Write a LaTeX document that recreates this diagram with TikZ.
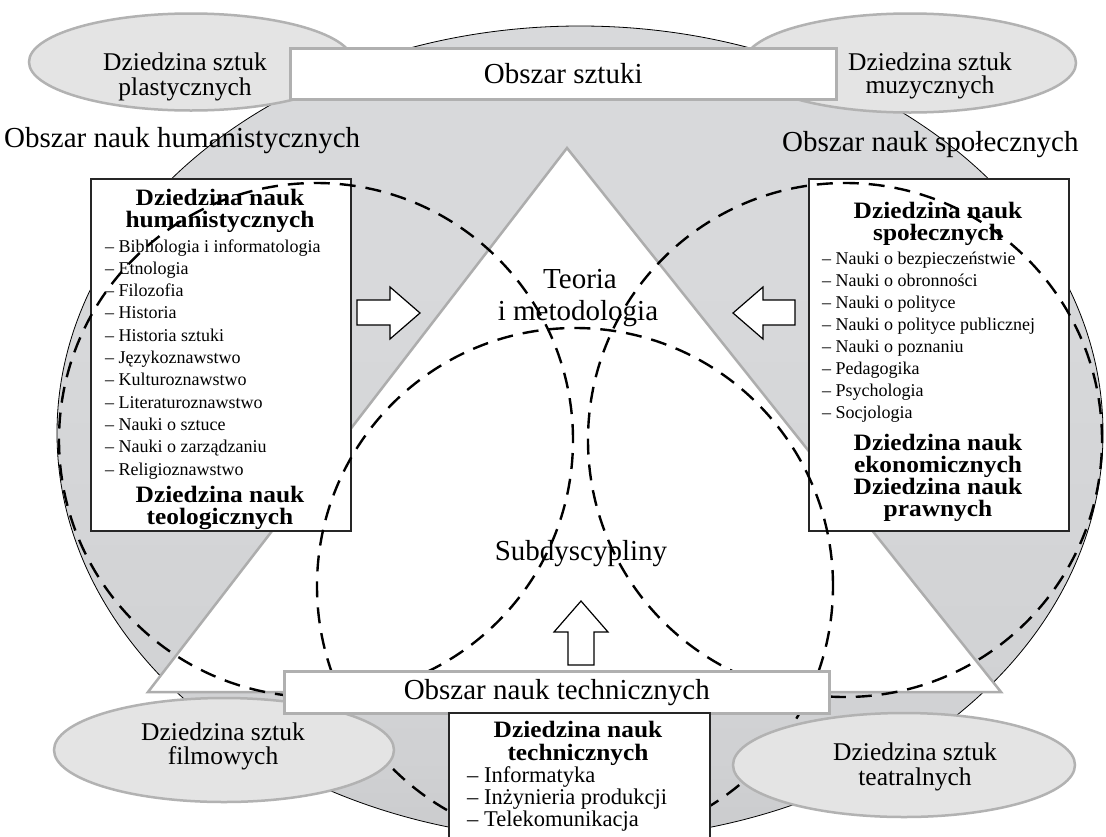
\documentclass[tikz,border=0pt]{standalone}
\usepackage{fontspec}
\setmainfont{Liberation Serif}
\newfontfamily\ttlfont[FakeStretch=1.08]{Liberation Serif}
\usetikzlibrary{shapes.geometric}
\definecolor{elfill}{HTML}{E4E4E4}
\definecolor{elline}{HTML}{B2B2B2}
\definecolor{boxline}{HTML}{B0B0B0}
\definecolor{triline}{HTML}{ADADAD}
\definecolor{bgtop}{HTML}{D8D9DB}
\definecolor{bgmid}{HTML}{D0D1D3}
\definecolor{bgbot}{HTML}{ACADAF}
\pgfdeclareverticalshading{bigshade}{100bp}{color(0bp)=(bgbot); color(30bp)=(bgmid); color(60bp)=(bgtop); color(100bp)=(bgtop)}
\tikzset{
 lab/.style={font=\fontsize{29}{32}\selectfont, inner sep=0pt},
 ellab/.style={font=\fontsize{25.5}{25}\selectfont, inner sep=0pt, anchor=base},
 ttl/.style={font=\ttlfont\fontsize{23.5}{22}\selectfont\bfseries, inner sep=0pt, anchor=base},
 itm/.style={font=\fontsize{18}{22}\selectfont, inner sep=0pt, anchor=base west},
 itmb/.style={font=\fontsize{22.5}{22}\selectfont, inner sep=0pt, anchor=base west},
 grayellipse/.style={ellipse, draw=elline, fill=elfill, line width=2.5pt, inner sep=0pt},
 areabox/.style={draw=boxline, fill=white, line width=2.5pt, inner sep=0pt},
 fieldbox/.style={draw=black!85, fill=white, line width=1.5pt, inner sep=0pt},
 vennline/.style={draw=black, line width=2.4pt, dash pattern=on 16pt off 10pt},
 blockarrow/.style={draw=black, fill=white, line width=1.2pt, line join=miter},
}
\begin{document}
\begin{tikzpicture}[x=1pt,y=-1pt]
\useasboundingbox[fill=white] (0,0) rectangle (1106,836);
% big background ellipse
\path[draw=black, line width=0.8pt, shading=bigshade] (580,433) ellipse [x radius=523pt, y radius=407pt];
% triangle
\coordinate (tA) at (567,148);
\coordinate (tR) at (1001,692);
\coordinate (tL) at (148,692);
\filldraw[fill=white, draw=triline, line width=2.5pt, line join=miter] (tA) -- (tR) -- (tL) -- cycle;
% field boxes left and right
\node[fieldbox, anchor=north west, minimum width=260pt, minimum height=352pt] (humbox) at (90,178) {};
\node[fieldbox, anchor=north west, minimum width=260pt, minimum height=352pt] (socbox) at (808,178) {};
% left box text
\node[ttl] (ht1) at (220,205) {Dziedzina nauk};
\node[ttl] (ht2) at (220,227) {humanistycznych};
\foreach \t [count=\i from 0] in {Bibliologia i informatologia, Etnologia, Filozofia, Historia, Historia sztuki, Językoznawstwo, Kulturoznawstwo, Literaturoznawstwo, Nauki o sztuce, Nauki o zarządzaniu, Religioznawstwo}
  \node[itm] (hi\i) at (105,{252+22.3*\i}) {– \t};
\node[ttl] (ht3) at (220,502) {Dziedzina nauk};
\node[ttl] (ht4) at (220,524) {teologicznych};
% right box text
\node[ttl] (st1) at (938,218) {Dziedzina nauk};
\node[ttl] (st2) at (938,240) {społecznych};
\foreach \t [count=\i from 0] in {Nauki o bezpieczeństwie, Nauki o obronności, Nauki o polityce, Nauki o polityce publicznej, Nauki o poznaniu, Pedagogika, Psychologia, Socjologia}
  \node[itm] (si\i) at (822,{264+22*\i}) {– \t};
\node[ttl] (st3) at (938,450) {Dziedzina nauk};
\node[ttl] (st4) at (938,472) {ekonomicznych};
\node[ttl] (st5) at (938,494) {Dziedzina nauk};
\node[ttl] (st6) at (938,516) {prawnych};
% centre labels
\node[lab, anchor=base] (teo1) at (580,288) {Teoria};
\node[lab, anchor=base] (teo2) at (578,320) {i metodologia};
\node[lab, anchor=base] (sub) at (581,560) {Subdyscypliny};
% block arrows
\filldraw[blockarrow] (357,300) -- (390,300) -- (390,287) -- (420,313) -- (390,339) -- (390,325) -- (357,325) -- cycle;
\filldraw[blockarrow] (795,300) -- (763,300) -- (763,287) -- (733,313) -- (763,339) -- (763,325) -- (795,325) -- cycle;
\filldraw[blockarrow] (568,665) -- (568,632) -- (554,632) -- (581,601) -- (608,632) -- (594,632) -- (594,665) -- cycle;
% venn circles
\node[circle, vennline, minimum size=514pt, inner sep=0pt] (vL) at (316,440) {};
\node[circle, vennline, minimum size=514pt, inner sep=0pt] (vR) at (845,440) {};
\node[circle, vennline, minimum size=516pt, inner sep=0pt] (vT) at (575,586) {};
% area labels
\node[lab, anchor=base west] (obhum) at (4,147) {Obszar nauk humanistycznych};
\node[lab, anchor=base west] (obspo) at (782,151) {Obszar nauk społecznych};
% bottom ellipses and boxes
\node[grayellipse, minimum width=340pt, minimum height=104pt] (film) at (224,750) {};
\node[ellab] (film1) at (223,740) {Dziedzina sztuk};
\node[ellab] (film2) at (223,764) {filmowych};
\node[grayellipse, minimum width=342pt, minimum height=104pt] (teat) at (904,765) {};
\node[ellab] (teat1) at (915,760) {Dziedzina sztuk};
\node[ellab] (teat2) at (915,785) {teatralnych};
\node[areabox, anchor=north west, minimum width=545pt, minimum height=42pt, font=\fontsize{29}{32}\selectfont] (tech) at (283,670) {Obszar nauk technicznych};
\node[fieldbox, anchor=north west, minimum width=261pt, minimum height=150pt] (techbox) at (448,712) {};
\node[ttl] (tt1) at (578,737) {Dziedzina nauk};
\node[ttl] (tt2) at (578,760) {technicznych};
\node[itmb] (ti0) at (467,782) {– Informatyka};
\node[itmb] (ti1) at (467,804) {– Inżynieria produkcji};
\node[itmb] (ti2) at (467,826) {– Telekomunikacja};
% top ellipses and box
\node[grayellipse, minimum width=324pt, minimum height=97pt] (plast) at (191,62) {};
\node[ellab] (plast1) at (185,70) {Dziedzina sztuk};
\node[ellab] (plast2) at (185,95) {plastycznych};
\node[grayellipse, minimum width=332pt, minimum height=99pt] (muz) at (910,63) {};
\node[ellab] (muz1) at (930,70) {Dziedzina sztuk};
\node[ellab] (muz2) at (930,93) {muzycznych};
\node[areabox, anchor=north west, minimum width=546pt, minimum height=51pt, font=\fontsize{29}{32}\selectfont] (sztuka) at (289,47) {Obszar sztuki};
\end{tikzpicture}
\end{document}
